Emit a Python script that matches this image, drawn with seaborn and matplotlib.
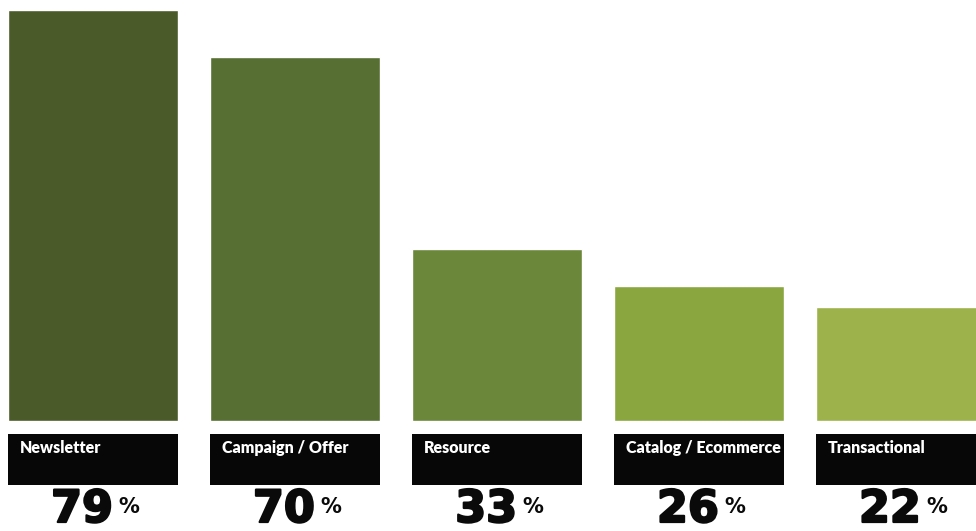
import matplotlib
matplotlib.use("Agg")
import matplotlib.pyplot as plt
import matplotlib.transforms as mtransforms
import matplotlib.patheffects as pe
from matplotlib.patches import Rectangle
import seaborn as sns
import pandas as pd

# Email types and the share of respondents sending each one (%)
categories = ["Newsletter", "Campaign / Offer", "Resource", "Catalog / Ecommerce", "Transactional"]
shares = [79, 70, 33, 26, 22]

# Olive-to-lime ramp, one shade per bar
palette = ["#4a5a28", "#576f33", "#6a873a", "#8aa73f", "#9db24a"]

df = pd.DataFrame({"category": categories, "share": shares})

sns.set_theme(style="white")
plt.rcParams["font.family"] = ["DejaVu Sans"]

W, H = 976, 531
PT = 72 / 100  # points per pixel at 100 dpi
fig = plt.figure(figsize=(W / 100, H / 100), dpi=100)
fig.patch.set_facecolor("white")

# Plot area: baseline at y=421px, top at y=10px
ax = fig.add_axes([0, (H - 421) / H, 1, (421 - 10) / H])
bar_w = 0.84
sns.barplot(data=df, x="category", y="share", hue="category", palette=palette,
            width=bar_w, saturation=1, legend=False, ax=ax)
ax.set_ylim(0, max(shares))
ax.set_xlim(-93 / 202, (W - 93) / 202)
ax.set_axis_off()

# Label strip and value row, placed in figure coordinates below the bars
trans = mtransforms.blended_transform_factory(ax.transData, fig.transFigure)
box_bottom = (H - 485) / H
box_height = (485 - 434) / H
label_base = (H - 453) / H
value_base = (H - 522) / H
pct_base = (H - 513) / H
ink = "#0a0a0a"
heavy = [pe.withStroke(linewidth=1.6, foreground=ink)]

for i, (cat, val) in enumerate(zip(categories, shares)):
    ax.add_patch(Rectangle((i - bar_w / 2, box_bottom), bar_w, box_height,
                           transform=trans, facecolor="#070707", edgecolor="none",
                           clip_on=False))
    ax.annotate(cat, xy=(i - bar_w / 2, label_base), xycoords=trans,
                xytext=(12 * PT, 0), textcoords="offset points",
                color="white", fontsize=11.5, fontweight="heavy",
                family=["Lato", "DejaVu Sans"],
                ha="left", va="baseline", annotation_clip=False)
    ax.annotate(f"{val}", xy=(i, value_base), xycoords=trans,
                xytext=(20 * PT, 0), textcoords="offset points",
                color=ink, fontsize=32, fontweight="bold", path_effects=heavy,
                ha="right", va="baseline", annotation_clip=False)
    ax.annotate("%", xy=(i, pct_base), xycoords=trans,
                xytext=(25 * PT, 0), textcoords="offset points",
                color=ink, fontsize=15, fontweight="bold",
                ha="left", va="baseline", annotation_clip=False)

fig.savefig("out.png", dpi=100, facecolor="white")
